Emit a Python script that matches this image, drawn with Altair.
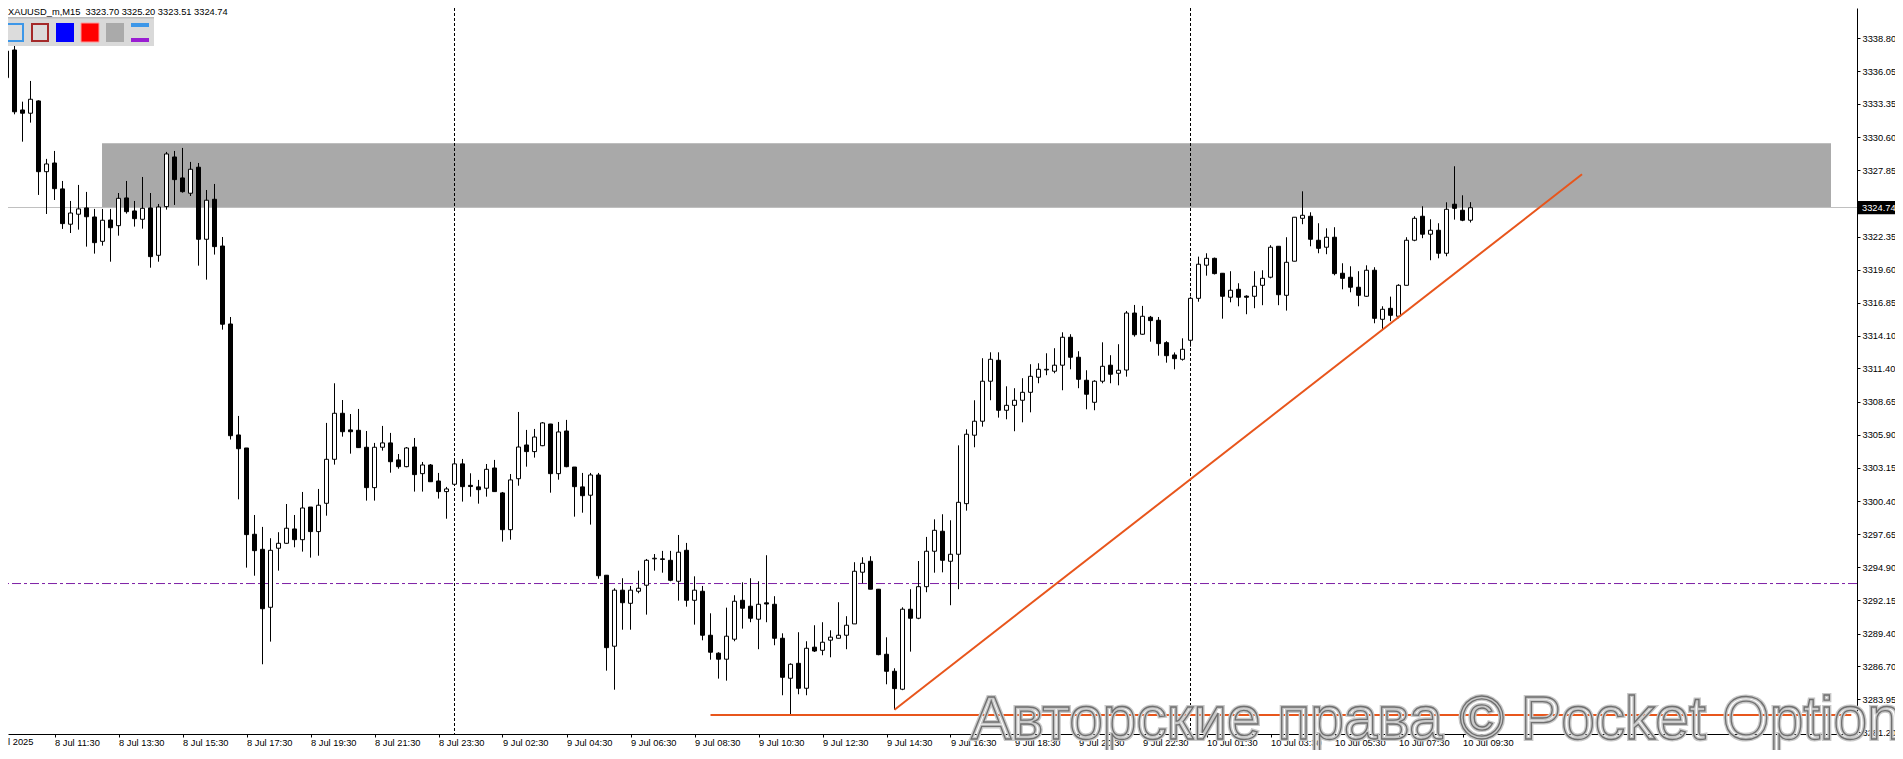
import json
import altair as alt
import pandas as pd

# ---------------- data ----------------
FIRST_BAR = -6  # bar index of the first visible candle (8 Jul 10:00)
opens = [3335.53, 3337.83, 3332.85, 3332.58, 3333.60, 3327.73, 3328.45, 3326.30, 3323.37, 3324.20,
         3324.72, 3323.97, 3321.95, 3323.72, 3323.25, 3325.55, 3324.47, 3323.78, 3324.72, 3320.79,
         3324.83, 3328.95, 3327.21, 3325.94, 3328.10, 3322.12, 3325.44, 3321.56, 3315.09, 3305.88,
         3304.80, 3297.64, 3296.39, 3291.58, 3296.48, 3296.89, 3298.08, 3297.19, 3299.90, 3297.86,
         3300.21, 3303.86, 3307.68, 3306.30, 3306.27, 3304.86, 3301.51, 3304.86, 3305.22, 3303.81,
         3303.25, 3304.88, 3302.67, 3303.39, 3302.06, 3301.18, 3301.79, 3303.48, 3301.70, 3301.57,
         3301.46, 3303.14, 3301.07, 3298.02, 3302.25, 3305.05, 3304.50, 3304.99, 3306.79, 3302.67,
         3306.21, 3303.22, 3301.57, 3300.88, 3302.56, 3294.24, 3288.35, 3293.00, 3291.91, 3292.91,
         3293.41, 3295.60, 3295.60, 3295.48, 3293.74, 3296.31, 3292.16, 3292.91, 3289.26, 3287.77,
         3287.27, 3288.93, 3292.16, 3291.67, 3290.59, 3291.95, 3291.83, 3289.01, 3285.69, 3286.93,
         3284.86, 3288.27, 3288.01, 3288.85, 3289.01, 3289.26, 3290.20, 3294.49, 3295.40, 3293.08,
         3287.68, 3286.27, 3284.78, 3291.42, 3290.67, 3293.29, 3296.23, 3297.89, 3295.40, 3295.98,
         3300.18, 3305.86, 3307.02, 3310.34, 3312.08, 3307.93, 3308.34, 3308.76, 3309.42, 3310.67,
         3311.28, 3311.17, 3311.67, 3313.99, 3312.33, 3310.42, 3308.59, 3310.34, 3311.67, 3311.00,
         3311.27, 3316.00, 3314.24, 3315.65, 3315.40, 3313.54, 3312.52, 3312.16, 3313.74, 3317.22,
         3319.97, 3320.54, 3319.30, 3317.31, 3317.97, 3317.40, 3317.39, 3318.30, 3318.97, 3321.54,
         3317.47, 3320.30, 3323.86, 3324.03, 3322.04, 3321.46, 3322.29, 3319.30, 3318.97, 3318.14,
         3317.39, 3319.55, 3315.48, 3316.39, 3315.73, 3318.30, 3322.04, 3324.03, 3322.54, 3322.87,
         3320.96, 3325.03, 3324.53, 3323.70]
highs = [3339.30, 3338.16, 3333.54, 3335.26, 3333.65, 3328.79, 3329.45, 3326.96, 3325.30, 3326.63,
         3326.05, 3324.64, 3324.64, 3324.64, 3325.96, 3326.96, 3325.30, 3327.29, 3325.96, 3325.05,
         3329.37, 3329.45, 3329.70, 3328.54, 3328.45, 3326.21, 3326.71, 3322.31, 3315.67, 3307.46,
         3304.80, 3299.24, 3298.25, 3297.31, 3297.81, 3300.15, 3299.24, 3301.15, 3299.90, 3301.40,
         3306.88, 3310.17, 3308.78, 3307.62, 3308.04, 3306.21, 3305.22, 3306.63, 3306.05, 3304.30,
         3304.88, 3305.63, 3303.64, 3303.47, 3302.73, 3301.57, 3303.89, 3303.89, 3302.70, 3302.15,
         3303.47, 3303.81, 3301.15, 3302.64, 3307.79, 3306.30, 3306.38, 3306.95, 3306.80, 3306.96,
         3307.13, 3303.22, 3302.73, 3302.73, 3302.73, 3294.24, 3293.16, 3293.99, 3293.35, 3294.62,
         3295.59, 3296.00, 3296.26, 3296.26, 3297.58, 3296.92, 3294.15, 3293.35, 3291.08, 3287.85,
         3291.55, 3292.58, 3293.65, 3293.99, 3293.74, 3295.90, 3292.50, 3289.42, 3286.93, 3289.51,
         3288.76, 3290.09, 3290.34, 3289.67, 3292.00, 3290.84, 3295.32, 3295.73, 3295.82, 3293.10,
         3289.09, 3286.52, 3291.58, 3293.08, 3295.42, 3297.42, 3298.88, 3299.30, 3298.80, 3305.02,
         3306.35, 3308.76, 3312.25, 3312.74, 3312.74, 3309.92, 3309.76, 3310.59, 3311.75, 3311.83,
         3312.66, 3313.08, 3314.40, 3314.24, 3312.83, 3311.25, 3310.42, 3313.57, 3312.50, 3313.41,
         3316.17, 3316.67, 3316.59, 3315.76, 3315.67, 3313.66, 3312.73, 3313.90, 3317.36, 3320.68,
         3320.96, 3320.60, 3319.30, 3319.47, 3318.47, 3317.47, 3319.47, 3319.55, 3321.63, 3321.54,
         3322.29, 3323.95, 3326.10, 3324.36, 3323.45, 3323.03, 3323.12, 3320.13, 3319.88, 3319.47,
         3319.96, 3319.80, 3316.56, 3317.36, 3318.39, 3322.29, 3324.03, 3324.86, 3323.78, 3323.45,
         3325.19, 3328.18, 3325.77, 3325.20]
lows = [3335.40, 3332.49, 3330.22, 3331.80, 3325.80, 3324.22, 3325.38, 3322.98, 3322.64, 3322.92,
        3321.51, 3320.93, 3321.59, 3320.26, 3322.42, 3324.25, 3323.17, 3323.00, 3319.76, 3320.26,
        3324.58, 3324.97, 3325.99, 3325.71, 3319.93, 3318.77, 3320.85, 3314.62, 3305.50, 3300.54,
        3294.87, 3294.20, 3286.85, 3288.73, 3294.62, 3296.85, 3296.56, 3296.20, 3295.70, 3295.86,
        3299.18, 3303.42, 3305.74, 3304.33, 3304.80, 3300.43, 3300.43, 3304.58, 3302.75, 3303.08,
        3303.20, 3301.18, 3301.18, 3302.00, 3300.60, 3298.93, 3301.79, 3300.35, 3300.76, 3300.18,
        3300.76, 3301.18, 3297.03, 3297.19, 3301.67, 3303.25, 3304.00, 3304.95, 3301.09, 3302.17,
        3303.20, 3299.10, 3299.43, 3298.44, 3293.95, 3286.32, 3284.74, 3289.72, 3289.72, 3292.74,
        3290.97, 3294.62, 3294.45, 3293.74, 3292.13, 3291.63, 3290.14, 3288.84, 3287.23, 3285.66,
        3285.49, 3288.76, 3289.81, 3290.34, 3288.10, 3290.34, 3288.43, 3284.28, 3282.62, 3284.36,
        3284.28, 3287.87, 3287.60, 3287.43, 3289.00, 3288.10, 3290.20, 3293.57, 3293.08, 3287.60,
        3285.19, 3283.08, 3284.70, 3287.90, 3290.59, 3292.83, 3294.45, 3294.48, 3291.75, 3293.08,
        3299.60, 3304.86, 3306.57, 3308.76, 3307.32, 3307.18, 3306.19, 3306.93, 3307.76, 3310.17,
        3310.84, 3311.00, 3309.59, 3311.33, 3309.76, 3308.01, 3307.93, 3310.17, 3310.17, 3310.00,
        3310.72, 3314.04, 3314.20, 3313.62, 3312.46, 3311.88, 3311.33, 3312.05, 3313.21, 3316.94,
        3319.10, 3319.20, 3315.53, 3316.89, 3316.56, 3315.90, 3316.40, 3316.65, 3318.88, 3316.65,
        3316.20, 3320.30, 3323.37, 3321.54, 3320.96, 3320.88, 3319.13, 3317.97, 3317.72, 3316.56,
        3317.35, 3315.15, 3314.57, 3315.32, 3315.56, 3318.30, 3321.96, 3322.21, 3320.38, 3320.54,
        3320.71, 3323.75, 3323.62, 3323.51]
closes = [3337.74, 3332.70, 3332.58, 3333.74, 3327.73, 3328.37, 3326.32, 3323.42, 3324.30, 3324.64,
          3323.99, 3321.84, 3323.70, 3323.08, 3325.52, 3324.41, 3323.83, 3324.69, 3320.68, 3324.80,
          3329.20, 3327.07, 3326.07, 3327.93, 3322.12, 3325.36, 3321.51, 3315.07, 3305.82, 3304.74,
          3297.61, 3296.28, 3291.46, 3296.31, 3296.89, 3298.14, 3297.19, 3299.82, 3297.86, 3300.05,
          3303.86, 3307.68, 3306.15, 3306.15, 3304.83, 3301.51, 3304.86, 3305.22, 3303.66, 3303.25,
          3304.80, 3302.59, 3303.39, 3302.00, 3301.18, 3301.40, 3303.48, 3301.59, 3301.60, 3301.34,
          3303.03, 3301.18, 3298.02, 3302.15, 3304.88, 3304.50, 3305.71, 3306.88, 3302.67, 3306.13,
          3303.25, 3301.59, 3300.84, 3302.56, 3294.20, 3288.23, 3293.00, 3291.96, 3293.00, 3293.16,
          3295.48, 3295.65, 3295.55, 3293.82, 3296.15, 3292.16, 3293.00, 3289.26, 3287.85, 3287.27,
          3289.18, 3292.08, 3291.50, 3290.67, 3291.83, 3291.85, 3289.01, 3285.77, 3286.85, 3284.86,
          3288.18, 3287.95, 3288.68, 3289.10, 3289.26, 3290.09, 3294.57, 3295.23, 3293.08, 3287.65,
          3286.27, 3284.83, 3291.42, 3290.67, 3293.29, 3296.23, 3297.97, 3295.48, 3295.98, 3300.29,
          3305.94, 3307.02, 3310.34, 3312.16, 3307.93, 3308.34, 3308.76, 3309.42, 3310.75, 3311.33,
          3311.33, 3311.67, 3313.99, 3312.33, 3310.50, 3309.26, 3310.34, 3311.58, 3310.92, 3311.25,
          3316.00, 3314.20, 3315.73, 3315.37, 3313.46, 3312.46, 3312.21, 3312.99, 3317.22, 3320.05,
          3320.54, 3319.27, 3317.39, 3317.89, 3317.31, 3317.31, 3318.22, 3318.88, 3321.46, 3317.52,
          3320.21, 3323.95, 3324.11, 3322.12, 3321.37, 3322.29, 3319.27, 3318.88, 3318.14, 3317.47,
          3319.55, 3315.56, 3316.31, 3315.81, 3318.30, 3322.04, 3323.86, 3322.54, 3322.87, 3320.96,
          3324.61, 3324.69, 3323.70, 3324.74]

time_tick_bars = [-8, 0, 8, 16, 24, 32, 40, 48, 56, 64, 72, 80, 88, 96, 104, 112, 120, 128,
                  136, 144, 152, 160, 168, 176]
time_tick_labels = ["8 Jul 2025", "8 Jul 11:30", "8 Jul 13:30", "8 Jul 15:30", "8 Jul 17:30",
                    "8 Jul 19:30", "8 Jul 21:30", "8 Jul 23:30", "9 Jul 02:30", "9 Jul 04:30",
                    "9 Jul 06:30", "9 Jul 08:30", "9 Jul 10:30", "9 Jul 12:30", "9 Jul 14:30",
                    "9 Jul 16:30", "9 Jul 18:30", "9 Jul 20:30", "9 Jul 22:30", "10 Jul 01:30",
                    "10 Jul 03:30", "10 Jul 05:30", "10 Jul 07:30", "10 Jul 09:30"]
price_ticks = [3341.55, 3338.80, 3336.05, 3333.35, 3330.60, 3327.85, 3325.10, 3322.35, 3319.60,
               3316.85, 3314.10, 3311.40, 3308.65, 3305.90, 3303.15, 3300.40, 3297.65, 3294.90,
               3292.15, 3289.40, 3286.70, 3283.95, 3281.20]
day_separator_bars = [50, 142]
zone_bars = [5.94, 222.06]
zone_prices = [3324.74, 3330.09]
bid_price = 3324.74
bid_line_price = 3324.757
violet_level = 3293.55
support_bars = [82, 224.6]
support_price = 3282.64
trend_bars = [105, 190.94]
trend_prices = [3283.08, 3327.51]
header_text = "XAUUSD_m,M15\u00a0 3323.70 3325.20 3323.51 3324.74"
watermark_text = "Авторские права © Pocket Option"

# ---------------- layout ----------------
W, H = 1849, 726
X_DOM = [-5.8125, 225.3125]
Y_DOM = [3281.064, 3341.313]
FONT = "Liberation Sans"
FS = 9.3

xs = alt.Scale(domain=X_DOM, nice=False, zero=False)
ys = alt.Scale(domain=Y_DOM, nice=False, zero=False)

label_array = json.dumps(time_tick_labels, ensure_ascii=False)
x_axis = alt.Axis(values=time_tick_bars[1:], title=None, grid=False, orient="bottom",
                  labelExpr=f"{label_array}[(datum.value + 8) / 8]",
                  labelAlign="left", labelBaseline="top", labelPadding=1,
                  labelFont=FONT, labelFontSize=FS, labelColor="black",
                  labelOverlap=False, labelFlush=False, labelBound=False,
                  tickColor="black", tickSize=3, domainColor="black")
y_axis = alt.Axis(values=price_ticks, title=None, grid=False, orient="right", format=".2f",
                  labelFont=FONT, labelFontSize=FS, labelColor="black", labelPadding=2,
                  labelOverlap=False, labelFlush=False, labelBound=False,
                  tickColor="black", tickSize=3, domainColor="black")


def X(field):
    return alt.X(field, scale=xs, axis=x_axis)


def Y(field):
    return alt.Y(field, scale=ys, axis=y_axis)


bars = pd.DataFrame({
    "bar": list(range(FIRST_BAR, FIRST_BAR + len(opens))),
    "open": opens, "high": highs, "low": lows, "close": closes,
})
bars["left"] = bars["bar"] - 0.25
bars["right"] = bars["bar"] + 0.25
bars["dir"] = ["up" if c >= o else "down" for o, c in zip(opens, closes)]

one = pd.DataFrame({"a": [0]})

zone = alt.Chart(pd.DataFrame({"x": [zone_bars[0]], "x2": [zone_bars[1]],
                               "y": [zone_prices[0]], "y2": [zone_prices[1]]})).mark_rect(
    color="#a9a9a9").encode(x=X("x:Q"), x2="x2:Q", y=Y("y:Q"), y2="y2:Q")

# leftmost (partly hidden) date label
first_label = alt.Chart(pd.DataFrame({"b": [time_tick_bars[0]], "t": [time_tick_labels[0]]})).mark_text(
    font=FONT, fontSize=FS, color="black", align="left", baseline="top").encode(
    x=X("b:Q"), y=alt.value(H + 4), text="t:N")

bid = alt.Chart(pd.DataFrame({"p": [bid_line_price]})).mark_rule(color="#c0c0c0", strokeWidth=1).encode(
    y=Y("p:Q"))

violet = alt.Chart(pd.DataFrame({"p": [violet_level]})).mark_rule(
    color="#7d1fa6", strokeWidth=1, strokeDash=[9, 3, 3, 3]).encode(y=Y("p:Q"))

seps = alt.Chart(pd.DataFrame({"b": day_separator_bars})).mark_rule(
    color="black", strokeWidth=1, strokeDash=[3, 2]).encode(x=X("b:Q"))

wicks = alt.Chart(bars).mark_rule(color="black", strokeWidth=1).encode(
    x=X("bar:Q"), y=Y("low:Q"), y2="high:Q")

bodies = alt.Chart(bars).mark_rect(stroke="black", strokeWidth=1).encode(
    x=X("left:Q"), x2="right:Q",
    y=Y("open:Q"), y2="close:Q",
    fill=alt.Fill("dir:N", scale=alt.Scale(domain=["up", "down"], range=["white", "black"]),
                  legend=None))

ORANGE = "#e8561c"
support = alt.Chart(pd.DataFrame({"x": [support_bars[0]], "x2": [support_bars[1]],
                                  "p": [support_price]})).mark_rule(
    color=ORANGE, strokeWidth=2).encode(x=X("x:Q"), x2="x2:Q", y=Y("p:Q"))

trend = alt.Chart(pd.DataFrame({"x": [trend_bars[0]], "x2": [trend_bars[1]],
                                "y": [trend_prices[0]], "y2": [trend_prices[1]]})).mark_rule(
    color=ORANGE, strokeWidth=2).encode(x=X("x:Q"), x2="x2:Q", y=Y("y:Q"), y2="y2:Q")

price_box = alt.Chart(pd.DataFrame({"hi": [bid_price + 0.55], "lo": [bid_price - 0.55]})).mark_rect(
    color="black").encode(x=alt.value(W + 1), x2=alt.value(W + 46), y=Y("hi:Q"), y2="lo:Q")
price_txt = alt.Chart(pd.DataFrame({"p": [bid_price], "t": [f"{bid_price:.2f}"]})).mark_text(
    color="white", font=FONT, fontSize=FS, align="left", baseline="middle").encode(
    x=alt.value(W + 5), y=Y("p:Q"), text="t:N")

header = alt.Chart(one).mark_text(text=header_text, font=FONT, fontSize=FS, color="black",
                                  align="left", baseline="top").encode(
    x=alt.value(0), y=alt.value(0))


def box(x1, y1, x2, y2, fill, stroke=None, sw=0):
    kw = {"fill": fill}
    if stroke:
        kw.update(stroke=stroke, strokeWidth=sw)
    return alt.Chart(one).mark_rect(**kw).encode(
        x=alt.value(x1), x2=alt.value(x2), y=alt.value(y1), y2=alt.value(y2))


toolbar = [
    box(-8, 9, 146, 38, "#d9d9d9"),
    box(-8, 9, 146, 10.5, "#bdbdbd"),
    box(-1, 16, 15, 33, "#dcdcdc", "#3d97e8", 2),
    box(24, 16, 40, 33, "#dcdcdc", "#a52a2a", 2),
    box(48, 15, 66, 34, "#0000ff"),
    box(73, 15, 91, 34, "#ff0000", "#ff9a9a", 1),
    box(98, 15, 116, 34, "#aaaaaa"),
    box(123, 15, 141, 19, "#3d97e8"),
    box(123, 30, 141, 34, "#9a1ed2"),
]

WM_FS = 60.5
wm_halo = alt.Chart(one).mark_text(text=watermark_text, font=FONT, fontSize=WM_FS, align="left",
                                   baseline="alphabetic", fill="white", fillOpacity=0,
                                   stroke="#c8c8c8", strokeWidth=4).encode(
    x=alt.value(963), y=alt.value(731))
wm_line = alt.Chart(one).mark_text(text=watermark_text, font=FONT, fontSize=WM_FS, align="left",
                                   baseline="alphabetic", fill="white", fillOpacity=0,
                                   stroke="#6f6f6f", strokeWidth=1.3).encode(
    x=alt.value(963), y=alt.value(731))

chart = alt.layer(zone, first_label, bid, violet, seps, wicks, bodies, support, trend,
                  price_box, price_txt, header, *toolbar, wm_halo, wm_line).properties(
    width=W, height=H, autosize="none",
    padding={"left": 0, "top": 0, "right": 38, "bottom": 16},
    background="white",
).configure_view(strokeWidth=0).configure_axis(labelOverlap=False)

chart.save("out.html", embed_options={"renderer": "svg", "actions": False})
